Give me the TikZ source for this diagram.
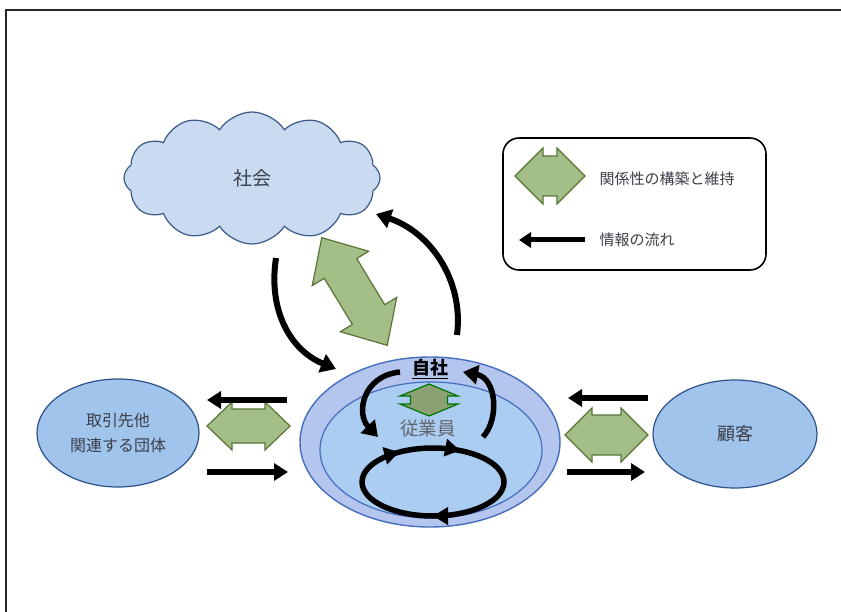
\documentclass[tikz,border=0pt]{standalone}
\usepackage{fontspec}
\setmainfont{Noto Sans CJK JP}
\usetikzlibrary{positioning,arrows.meta,shapes.geometric,shapes.symbols,decorations.markings}
\definecolor{cloudfill}{RGB}{202,218,240}
\definecolor{cloudline}{RGB}{60,90,135}
\definecolor{partyfill}{RGB}{160,196,236}
\definecolor{partyline}{RGB}{45,80,140}
\definecolor{outerfill}{RGB}{180,198,238}
\definecolor{innerfill}{RGB}{172,205,242}
\definecolor{ringline}{RGB}{68,110,190}
\definecolor{bondfill}{RGB}{163,190,135}
\definecolor{bondline}{RGB}{90,115,55}
\definecolor{labeltext}{RGB}{60,62,72}
\tikzset{party/.style={ellipse,draw=partyline,fill=partyfill,line width=1.2pt,inner sep=0pt,
    text=labeltext,font=\fontsize{16}{25}\selectfont,align=center},
  flow/.style={line width=6pt,-{Triangle[length=15pt,width=19pt]}},
  sideflow/.style={line width=6pt,-{Triangle[length=14pt,width=17pt]}},
  bondbig/.style={fill=bondfill,draw=bondline,line width=1.2pt},
  bondsmall/.style={fill=bondfill!85!black,draw=green!45!black,line width=1.2pt},
  legendtext/.style={text=labeltext,font=\fontsize{15}{18}\selectfont,anchor=west},
  pics/bond/.style n args={4}{code={
    \path[pic actions] (-#1/2,0) -- (-#1/2+#4,#2) -- (-#1/2+#4,#3) -- (#1/2-#4,#3)
      -- (#1/2-#4,#2) -- (#1/2,0) -- (#1/2-#4,-#2) -- (#1/2-#4,-#3)
      -- (-#1/2+#4,-#3) -- (-#1/2+#4,-#2) -- cycle;
  }},
}
\begin{document}
\begin{tikzpicture}[x=1pt,y=1pt]
  \useasboundingbox (0,0) rectangle (841,-612);
  % frame
  \draw[line width=2pt,black!85] (841,-10) -- (6,-10) -- (6,-612);

  % parties
  \node[cloud,cloud puffs=12,cloud puff arc=115,aspect=2,draw=cloudline,fill=cloudfill,
    line width=1.2pt,minimum width=256pt,minimum height=132pt,inner sep=0pt,
    text=labeltext,font=\fontsize{19}{22}\selectfont] (society) at (252,-178) {社会};
  \node[party,minimum width=162pt,minimum height=108pt] (partner) at (118,-433) {取引先他\\関連する団体};
  \node[party,minimum width=164pt,minimum height=108pt,font=\fontsize{18}{20}\selectfont] (client) at (735,-434) {顧客};

  % company
  \node[ellipse,draw=ringline,fill=outerfill,line width=1.4pt,minimum width=260pt,
    minimum height=170pt] (company) at (430,-442) {};
  \node[ellipse,draw=ringline,fill=innerfill,line width=1.2pt,minimum width=222pt,
    minimum height=136pt] (staff) at (431,-450) {};
  \node[font=\fontsize{18}{20}\selectfont\bfseries] (companylabel) at (430,-369) {\underline{自社}};
  \node[text=labeltext!80,font=\fontsize{18.5}{20}\selectfont] (stafflabel) at (428,-428) {従業員};
  \pic[bondsmall,rotate=90] at (429,-400) {bond={32}{29}{18.5}{12}};

  % relations
  \pic[bondbig,rotate=-58.7] at (354.5,-291.5) {bond={126}{33}{19}{36}};
  \pic[bondbig] at (248.5,-426) {bond={83}{24}{17}{25}};
  \pic[bondbig] at (606.5,-435) {bond={83}{27}{20}{27}};

  % information flows
  \coordinate (down1) at (276,-258);
  \coordinate (down2) at (336,-369);
  \coordinate (up1) at (457,-335);
  \coordinate (up2) at (376,-214);
  \draw[flow] (down1) .. controls (268,-310) and (290,-350) .. (down2);
  \draw[flow] (up1) .. controls (464,-280) and (430,-232) .. (up2);

  \coordinate (pl1) at (287,-400);
  \coordinate (pl2) at (207,-400);
  \coordinate (pl3) at (207,-472);
  \coordinate (pl4) at (288,-472);
  \draw[sideflow] (pl1) -- (pl2);
  \draw[sideflow] (pl3) -- (pl4);
  \coordinate (cl1) at (648,-398);
  \coordinate (cl2) at (568,-398);
  \coordinate (cl3) at (567,-472);
  \coordinate (cl4) at (645,-472);
  \draw[sideflow] (cl1) -- (cl2);
  \draw[sideflow] (cl3) -- (cl4);

  \coordinate (in1) at (400,-372);
  \coordinate (in2) at (378,-437);
  \coordinate (in3) at (483,-437);
  \coordinate (in4) at (463,-372);
  \draw[flow,line width=5.5pt] (in1) .. controls (362,-376) and (356,-414) .. (in2);
  \draw[flow,line width=5.5pt] (in3) .. controls (500,-418) and (496,-378) .. (in4);
  \draw[line width=5.5pt,postaction={decorate},decoration={markings,
      mark=at position 0.17 with {\arrowreversed{Triangle[length=15pt,width=17pt]}},
      mark=at position 0.35 with {\arrowreversed{Triangle[length=15pt,width=17pt]}},
      mark=at position 0.75 with {\arrowreversed{Triangle[length=15pt,width=17pt]}}}]
    (433,-482) ellipse [x radius=71,y radius=34];

  % legend
  \node[draw,rounded corners=16pt,line width=1.6pt,minimum width=263pt,
    minimum height=132pt] (legend) at (634.5,-204) {};
  \pic[bondbig] at (550,-176) {bond={70}{28}{20}{28}};
  \coordinate (keytail) at (585,-240);
  \coordinate (keyhead) at (519,-240);
  \draw[line width=5pt,-{Triangle[length=12pt,width=15pt]}] (keytail) -- (keyhead);
  \node[legendtext] (bondtext) at (596,-179) {関係性の構築と維持};
  \node[legendtext] (flowtext) at (596,-240) {情報の流れ};
\end{tikzpicture}
\end{document}
